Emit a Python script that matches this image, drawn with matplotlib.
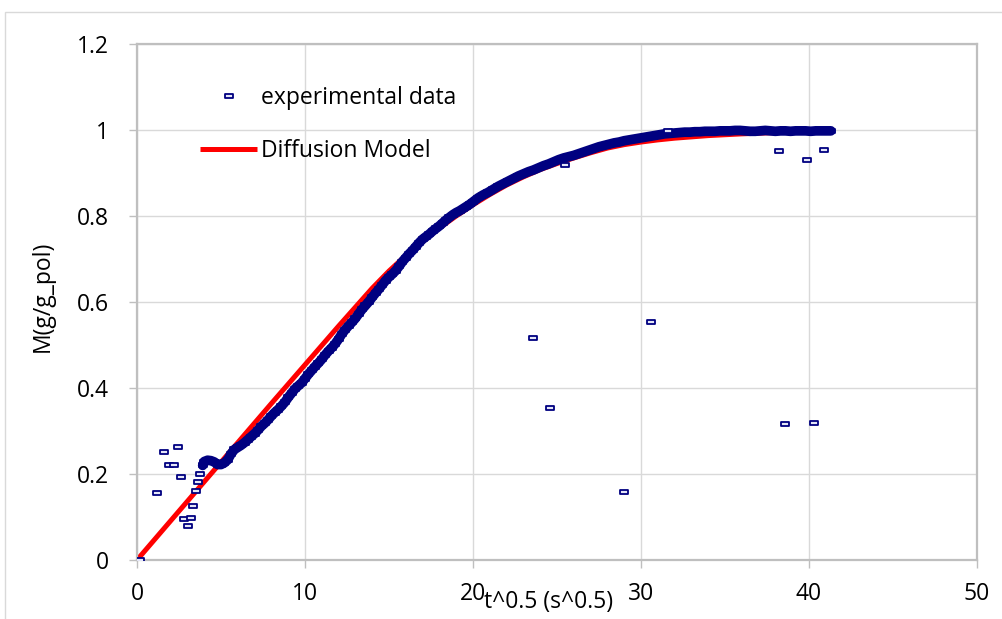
import matplotlib
matplotlib.use("Agg")
import matplotlib.pyplot as plt
from matplotlib.path import Path
from matplotlib.patches import Rectangle

plt.rcParams["font.family"] = ["Open Sans", "DejaVu Sans"]

band_t = [
    3.91, 4.0, 4.2, 4.4, 4.6, 4.8,
    5.0, 5.2, 5.4, 5.6, 5.8, 6.0, 6.2, 6.4, 6.6, 6.8, 7.0, 7.2, 7.4, 7.6, 7.8,
    8.0, 8.2, 8.4, 8.6, 8.8, 9.0, 9.2, 9.4, 9.6, 9.8, 10.0, 10.2, 10.4, 10.6,
    10.8, 11.0, 11.2, 11.4, 11.6, 11.8, 12.0, 12.2, 12.4, 12.6, 12.8, 13.0,
    13.2, 13.4, 13.6, 13.8, 14.0, 14.2, 14.4, 14.6, 14.8, 15.0, 15.2, 15.4,
    15.6, 15.8, 16.0, 16.2, 16.4, 16.6, 16.8, 17.0, 17.2, 17.4, 17.6, 17.8,
    18.0, 18.2, 18.4, 18.6, 18.8, 19.0, 19.2, 19.4, 19.6, 19.8, 20.0,
    20.3, 20.6, 20.9, 21.2, 21.5, 21.8, 22.1, 22.4, 22.7, 23.0, 23.3, 23.6,
    23.9, 24.2, 24.5, 24.8, 25.1, 25.4, 25.7, 26.0, 26.3, 26.6, 26.9, 27.2,
    27.5, 27.8, 28.1, 28.4, 28.7, 29.0, 29.3, 29.6, 29.9, 30.2, 30.5, 30.8,
    31.1, 31.4, 31.7, 32.0, 32.3, 32.6, 32.9, 33.2, 33.5, 33.8, 34.1, 34.4,
    34.7, 35.0, 35.3, 35.6, 35.9, 36.2, 36.5, 36.8, 37.1, 37.4, 37.7, 38.0,
    38.3, 38.6, 38.9, 39.2, 39.5, 39.8, 40.1, 40.4, 40.7, 41.0, 41.3,
]
band_m = [
    0.220, 0.229, 0.232, 0.231, 0.228, 0.222,
    0.222, 0.226, 0.233, 0.247, 0.257, 0.262, 0.267, 0.273, 0.280, 0.287, 0.294,
    0.302, 0.311, 0.318, 0.326, 0.335, 0.343, 0.350, 0.358, 0.367, 0.378, 0.388,
    0.398, 0.405, 0.412, 0.422, 0.432, 0.441, 0.450, 0.458, 0.467, 0.477, 0.486,
    0.494, 0.503, 0.514, 0.526, 0.536, 0.545, 0.553, 0.562, 0.573, 0.583, 0.592,
    0.601, 0.611, 0.621, 0.630, 0.640, 0.650, 0.658, 0.665, 0.673, 0.683, 0.694,
    0.703, 0.712, 0.720, 0.729, 0.738, 0.746, 0.752, 0.758, 0.765, 0.771, 0.777,
    0.784, 0.791, 0.797, 0.803, 0.808, 0.812, 0.817, 0.822, 0.827, 0.833,
    0.842, 0.849, 0.855, 0.862, 0.869, 0.875, 0.881, 0.887, 0.893, 0.898, 0.903,
    0.907, 0.912, 0.917, 0.921, 0.926, 0.931, 0.935, 0.938, 0.941, 0.945, 0.949,
    0.953, 0.957, 0.961, 0.964, 0.967, 0.970, 0.972, 0.975, 0.977, 0.979, 0.981,
    0.983, 0.985, 0.987, 0.989, 0.991, 0.992, 0.993, 0.994, 0.995, 0.995, 0.996,
    0.996, 0.997, 0.997, 0.997, 0.998, 0.998, 0.998, 0.999, 0.999, 0.998, 0.997,
    0.997, 0.998, 0.999, 0.998, 0.997, 0.998, 0.998, 0.997, 0.998, 0.998, 0.998,
    0.997, 0.998, 0.998, 0.998, 0.998,
]

# experimental data: scattered readings away from the band
scatter_t = [0.18, 1.19, 1.59, 1.89, 2.18, 2.42, 2.62, 2.82, 3.02, 3.21, 3.33,
             3.49, 3.63, 3.77, 23.6, 24.6, 25.5, 29.0, 30.6, 31.6, 38.2, 38.6,
             39.9, 40.3, 40.9]
scatter_m = [0.0, 0.156, 0.252, 0.222, 0.222, 0.263, 0.193, 0.096, 0.080, 0.098,
             0.126, 0.160, 0.181, 0.201, 0.517, 0.354, 0.919, 0.158, 0.553, 0.998,
             0.951, 0.317, 0.930, 0.319, 0.954]

# diffusion model curve
model_t = [0, 2, 4, 6, 8, 10, 12, 13, 14, 15, 16, 17, 18, 19, 20, 21, 22, 23,
           24, 25, 26, 27, 28, 29, 30, 31, 32, 33, 34, 35, 36, 38, 40, 41.2]
model_m = [0.0, 0.091, 0.182, 0.273, 0.364, 0.454, 0.544, 0.588, 0.632, 0.672,
           0.708, 0.740, 0.772, 0.800, 0.826, 0.850, 0.872, 0.891, 0.908, 0.922,
           0.935, 0.947, 0.958, 0.966, 0.972, 0.977, 0.981, 0.984, 0.987, 0.989,
           0.991, 0.994, 0.996, 0.997]

x_ticks = [0, 10, 20, 30, 40, 50]
y_ticks = [0, 0.2, 0.4, 0.6, 0.8, 1.0, 1.2]
y_tick_labels = ["0", "0.2", "0.4", "0.6", "0.8", "1", "1.2"]

NAVY = "#000080"
FS = 16.5
W, H = 1003, 619
fig = plt.figure(figsize=(W / 100, H / 100), dpi=100)
ax = fig.add_axes([137 / W, 1 - 560 / H, (977 - 137) / W, (560 - 44) / H])

# outer chart border (Excel chart area)
fig.patches.append(Rectangle((5 / W, -0.1), 1.2, 1.1 - 12 / H, transform=fig.transFigure,
                             fill=False, edgecolor="#d9d9d9", linewidth=1.0))

rect_marker = Path([(-1, -0.42), (1, -0.42), (1, 0.42), (-1, 0.42), (-1, -0.42)],
                   [Path.MOVETO, Path.LINETO, Path.LINETO, Path.LINETO, Path.CLOSEPOLY])
mk = dict(linestyle="none", marker=rect_marker, markersize=6.2,
          markerfacecolor="#e4e6f7", markeredgecolor=NAVY, markeredgewidth=1.3)

ax.plot(model_t, model_m, color="#ff0000", linewidth=3.6, zorder=2,
        solid_capstyle="butt", label="Diffusion Model")
# the band points overlap so closely that they read as a solid stroke
ax.plot(band_t, band_m, color=NAVY, linewidth=7.0, solid_capstyle="round",
        solid_joinstyle="round", zorder=3)
ax.plot(band_t, band_m, zorder=3, **{**mk, "markerfacecolor": NAVY})
ax.plot(scatter_t, scatter_m, zorder=4, label="experimental data", **mk)

ax.set_xlim(0, 50)
ax.set_ylim(0, 1.2)
ax.set_xticks(x_ticks)
ax.set_yticks(y_ticks)
ax.set_yticklabels(y_tick_labels)
ax.grid(True, color="#d9d9d9", linewidth=1.0)
ax.set_axisbelow(True)
for s in ax.spines.values():
    s.set_color("#bfbfbf")
    s.set_linewidth(1.6)
ax.tick_params(axis="both", colors="#bfbfbf", labelcolor="#000000", labelsize=FS,
               length=6, width=1.0)
ax.tick_params(axis="y", pad=14)
ax.tick_params(axis="x", pad=10)

ax.set_xlabel("t^0.5 (s^0.5)", fontsize=FS)
ax.xaxis.set_label_coords((549 - 137) / (977 - 137), -(590 - 560) / (560 - 44))
ax.set_ylabel("M(g/g_pol)", fontsize=FS)
ax.yaxis.set_label_coords(-(137 - 55) / (977 - 137), (560 - 296) / (560 - 44))

handles, labels = ax.get_legend_handles_labels()
leg = ax.legend(handles[::-1], labels[::-1], loc="upper left",
                bbox_to_anchor=((191 - 137) / (977 - 137), 1 - (77 - 44) / (560 - 44)),
                frameon=False, fontsize=FS, handlelength=2.5, handletextpad=0.15,
                labelspacing=1.25, borderaxespad=0)

fig.savefig("out.png", dpi=100)
